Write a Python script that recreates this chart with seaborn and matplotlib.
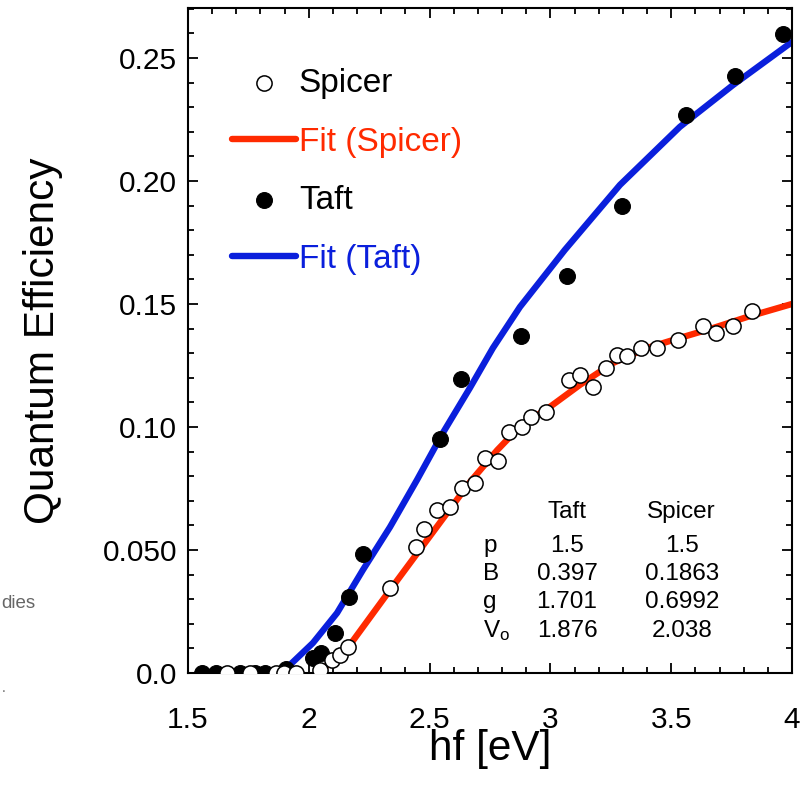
import matplotlib
matplotlib.use("Agg")
import matplotlib.pyplot as plt
import seaborn as sns
import pandas as pd
from matplotlib.ticker import MultipleLocator, FixedLocator, FixedFormatter

# ---------------- data ----------------
spicer_x = [1.661, 1.757, 1.864, 1.897, 1.947, 2.046, 2.096, 2.129, 2.162, 2.336,
            2.444, 2.477, 2.531, 2.584, 2.634, 2.688, 2.729, 2.783, 2.829, 2.882,
            2.920, 2.982, 3.077, 3.122, 3.176, 3.230, 3.276, 3.317, 3.375, 3.441,
            3.528, 3.632, 3.685, 3.756, 3.834]
spicer_y = [0.0, 0.0, 0.0, 0.0, 0.0, 0.0012, 0.0053, 0.0073, 0.0106, 0.0346,
            0.0512, 0.0585, 0.0663, 0.0675, 0.0752, 0.0772, 0.0874, 0.0862, 0.0980, 0.1000,
            0.1041, 0.1061, 0.1191, 0.1211, 0.1163, 0.1240, 0.1293, 0.1289, 0.1321, 0.1321,
            0.1354, 0.1411, 0.1382, 0.1411, 0.1472]

taft_x = [1.558, 1.616, 1.715, 1.777, 1.819, 1.906, 2.017, 2.050, 2.108, 2.166,
          2.224, 2.543, 2.630, 2.878, 3.069, 3.296, 3.561, 3.764, 3.963]
taft_y = [0.0, 0.0, 0.0, 0.0, 0.0, 0.0016, 0.0061, 0.0081, 0.0163, 0.0309,
          0.0484, 0.0951, 0.1195, 0.1370, 0.1614, 0.1898, 0.2268, 0.2427, 0.2598]

fit_spicer_x = [2.038, 2.088, 2.170, 2.336, 2.502, 2.667, 2.780, 2.880, 2.986, 3.122,
                3.259, 3.400, 3.536, 3.673, 3.814, 4.0]
fit_spicer_y = [0.0, 0.0041, 0.0114, 0.0337, 0.0557, 0.0776, 0.0906, 0.1008, 0.1073, 0.1171,
                0.1260, 0.1321, 0.1362, 0.1402, 0.1447, 0.1500]

fit_taft_x = [1.877, 1.922, 2.017, 2.117, 2.224, 2.336, 2.448, 2.555, 2.667, 2.762,
              2.874, 3.060, 3.288, 3.536, 3.756, 4.0]
fit_taft_y = [0.0, 0.0033, 0.0122, 0.0244, 0.0419, 0.0593, 0.0785, 0.0976, 0.1159, 0.1321,
              0.1488, 0.1720, 0.1984, 0.2220, 0.2390, 0.2565]

x_ticks = [1.5, 2.0, 2.5, 3.0, 3.5, 4.0]
x_ticklabels = ["1.5", "2", "2.5", "3", "3.5", "4"]
y_ticks = [0.0, 0.05, 0.10, 0.15, 0.20, 0.25]
y_ticklabels = ["0.0", "0.050", "0.10", "0.15", "0.20", "0.25"]

table_cols = ["Taft", "Spicer"]
table_rows = ["p", "B", "g", r"V$_\mathrm{o}$"]
table_taft = ["1.5", "0.397", "1.701", "1.876"]
table_spicer = ["1.5", "0.1863", "0.6992", "2.038"]

# ---------------- style ----------------
sns.set_style("ticks")
plt.rcParams["font.family"] = ["Liberation Sans", "DejaVu Sans"]
plt.rcParams["mathtext.fontset"] = "custom"
plt.rcParams["mathtext.rm"] = "Liberation Sans"
plt.rcParams["mathtext.it"] = "Liberation Sans:italic"
for k in ["text.color", "axes.labelcolor", "xtick.color", "ytick.color", "axes.edgecolor"]:
    plt.rcParams[k] = "black"

RED = "#ff2a00"
BLUE = "#0a1fdc"

fig = plt.figure(figsize=(8.09, 7.89), dpi=100)
ax = fig.add_axes([188 / 809, 1 - 673 / 789, (792 - 188) / 809, (673 - 8) / 789])

df_sp = pd.DataFrame({"hf": spicer_x, "qe": spicer_y})
df_tf = pd.DataFrame({"hf": taft_x, "qe": taft_y})
df_fsp = pd.DataFrame({"hf": fit_spicer_x, "qe": fit_spicer_y})
df_ftf = pd.DataFrame({"hf": fit_taft_x, "qe": fit_taft_y})

sns.lineplot(data=df_fsp, x="hf", y="qe", ax=ax, color=RED, lw=4.6, sort=False,
             estimator=None, label="Fit (Spicer)", zorder=2)
sns.lineplot(data=df_ftf, x="hf", y="qe", ax=ax, color=BLUE, lw=4.6, sort=False,
             estimator=None, label="Fit (Taft)", zorder=2)
sns.scatterplot(data=df_tf, x="hf", y="qe", ax=ax, color="black", edgecolor="black",
                s=130, linewidth=0.8, label="Taft", zorder=3)
sns.scatterplot(data=df_sp, x="hf", y="qe", ax=ax, facecolor="white", edgecolor="black",
                s=120, linewidth=1.1, label="Spicer", zorder=4)

ax.set_xlim(1.5, 4.0)
ax.set_ylim(0.0, 0.2703)

ax.xaxis.set_major_locator(FixedLocator(x_ticks))
ax.xaxis.set_major_formatter(FixedFormatter(x_ticklabels))
ax.xaxis.set_minor_locator(MultipleLocator(0.1))
ax.yaxis.set_major_locator(FixedLocator(y_ticks))
ax.yaxis.set_major_formatter(FixedFormatter(y_ticklabels))
ax.yaxis.set_minor_locator(MultipleLocator(0.01))

ax.tick_params(which="both", direction="in", top=True, right=True, width=1.3, color="black")
ax.tick_params(which="major", length=7.5, labelsize=21.5)
ax.tick_params(axis="y", which="major", pad=8)
ax.tick_params(axis="x", which="major", pad=23.5)
ax.tick_params(which="minor", length=4)
for s in ax.spines.values():
    s.set_linewidth(1.5)
    s.set_color("black")

ax.set_xlabel("hf [eV]", fontsize=30.5, labelpad=-3)
ax.set_ylabel("Quantum Efficiency", fontsize=30.5, labelpad=28)

# legend
handles, labels = ax.get_legend_handles_labels()
order = ["Spicer", "Fit (Spicer)", "Taft", "Fit (Taft)"]
hmap = dict(zip(labels, handles))
leg = ax.legend([hmap[k] for k in order], order, loc="upper left",
                bbox_to_anchor=(0.073, 0.910), frameon=False, fontsize=24,
                handlelength=1.92, handletextpad=0.08, labelspacing=0.83,
                borderaxespad=0, borderpad=0)
text_colors = ["black", RED, "black", BLUE]
for t, c in zip(leg.get_texts(), text_colors):
    t.set_color(c)

# parameter table
fs_tab = 17.5
def px(xp, yp):
    # figure pixel (top-left origin) -> figure fraction
    return xp / 809, 1 - yp / 789

for txt, xc in zip(table_cols, [567, 681]):
    fig.text(*px(xc, 512), txt, ha="center", va="center", fontsize=fs_tab)
row_y = [546, 574, 602, 631]
for lab, v1, v2, yy in zip(table_rows, table_taft, table_spicer, row_y):
    fig.text(*px(483, yy), lab, ha="left", va="center", fontsize=fs_tab)
    fig.text(*px(567, yy), v1, ha="center", va="center", fontsize=fs_tab)
    fig.text(*px(682, yy), v2, ha="center", va="center", fontsize=fs_tab)

# page fragments at the left edge
fig.text(*px(1, 603), "dies", ha="left", va="center", fontsize=13.5, color="#666666")
fig.text(*px(2, 688), ".", ha="left", va="center", fontsize=10, color="#666666")

fig.savefig("out.png", dpi=100)
